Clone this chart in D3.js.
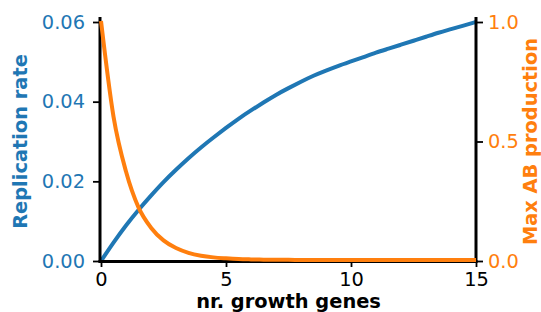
<!DOCTYPE html>
<html>
<head>
<meta charset="utf-8">
<script src="https://cdn.jsdelivr.net/npm/d3@7"></script>
<style>
body { margin: 0; background: #fff; }
text { font-family: "DejaVu Sans", sans-serif; }
</style>
</head>
<body>
<div id="chart-area"></div>
<script>
// values, x step 0.5
var genes = [0,0.5,1,1.5,2,2.5,3,3.5,4,4.5,5,5.5,6,6.5,7,7.5,8,8.5,9,9.5,10,10.5,11,11.5,12,12.5,13,13.5,14,14.5,15]
var replication = [0,0.0046,0.0089,0.0128,0.0164,0.0198,0.0229,0.0258,0.0285,0.0310,0.0334,0.0357,0.0378,0.0398,0.0417,0.0434,0.0450,0.0465,0.0478,0.0490,0.0501,0.0512,0.0523,0.0533,0.0543,0.0553,0.0563,0.0573,0.0582,0.0591,0.0600]
var abProduction = [1.0,0.60,0.37,0.22,0.135,0.082,0.050,0.030,0.018,0.011,0.007,0.004,0.0025,0.0015,0.001,0.0006,0.0003,0.0002,0.0001,0,0,0,0,0,0,0,0,0,0,0,0]

var xTicks = [0,5,10,15]
var leftTicks = [0,0.02,0.04,0.06]
var rightTicks = [0,0.5,1.0]

var blue = "#1f77b4"
var orange = "#ff7f0e"

var canvasWidth = 541
var canvasHeight = 312
var plot = {left: 101, right: 476, top: 22, bottom: 261}
var fontSize = "19.4px"

var svg = d3.select("#chart-area")
	.append("svg")
	.attr("width", canvasWidth)
	.attr("height", canvasHeight)

var x = d3.scaleLinear().domain([0, 15]).range([plot.left, plot.right])
var yLeft = d3.scaleLinear().domain([0, 0.06]).range([plot.bottom, plot.top])
var yRight = d3.scaleLinear().domain([0, 1.0]).range([plot.bottom, plot.top])

var points = genes.map(function(g, i){ return {g: g, r: replication[i], a: abProduction[i]} })

// blue curve first
svg.append("path")
	.datum(points)
	.attr("fill", "none")
	.attr("stroke", blue)
	.attr("stroke-width", 4)
	.attr("d", d3.line()
		.curve(d3.curveNatural)
		.x(function(d){ return x(d.g) })
		.y(function(d){ return yLeft(d.r) }))

function styleAxis(g, color) {
	g.select(".domain").remove()
	g.selectAll(".tick line").attr("stroke", "#000").attr("stroke-width", 1.8)
	g.selectAll(".tick text")
		.attr("fill", color)
		.style("font-size", fontSize)
		.style("font-family", "DejaVu Sans")
}

var xAxis = svg.append("g")
	.attr("transform", "translate(0," + plot.bottom + ")")
	.call(d3.axisBottom(x).tickValues(xTicks).tickSize(6).tickPadding(5).tickFormat(d3.format("d")))
styleAxis(xAxis, "#000")

var leftAxis = svg.append("g")
	.attr("transform", "translate(" + (plot.left - 1) + ",0)")
	.call(d3.axisLeft(yLeft).tickValues(leftTicks).tickSize(7).tickPadding(8).tickFormat(d3.format(".2f")))
styleAxis(leftAxis, blue)

var rightAxis = svg.append("g")
	.attr("transform", "translate(" + plot.right + ",0)")
	.call(d3.axisRight(yRight).tickValues(rightTicks).tickSize(7).tickPadding(5).tickFormat(d3.format(".1f")))
styleAxis(rightAxis, orange)

// spines
svg.append("line").attr("x1", plot.left - 1).attr("x2", plot.left - 1).attr("y1", plot.top - 5).attr("y2", plot.bottom + 1.5)
	.attr("stroke", "#000").attr("stroke-width", 3)
svg.append("line").attr("x1", plot.right).attr("x2", plot.right).attr("y1", plot.top - 5).attr("y2", plot.bottom + 1.5)
	.attr("stroke", "#000").attr("stroke-width", 3)
svg.append("line").attr("x1", plot.left - 2.5).attr("x2", plot.right + 1.5).attr("y1", plot.bottom + 0.5).attr("y2", plot.bottom + 0.5)
	.attr("stroke", "#000").attr("stroke-width", 3)

// orange curve on top
svg.append("path")
	.datum(points)
	.attr("fill", "none")
	.attr("stroke", orange)
	.attr("stroke-width", 4)
	.attr("d", d3.line()
		.curve(d3.curveMonotoneX)
		.x(function(d){ return x(d.g) })
		.y(function(d){ return yRight(d.a) - 1 }))

// axis labels
svg.append("text")
	.attr("x", (plot.left + plot.right) / 2)
	.attr("y", 308)
	.attr("text-anchor", "middle")
	.attr("font-weight", "bold")
	.style("font-size", fontSize)
	.attr("fill", "#000")
	.text("nr. growth genes")

svg.append("text")
	.attr("transform", "translate(27," + ((plot.top + plot.bottom) / 2) + ") rotate(-90)")
	.attr("text-anchor", "middle")
	.attr("font-weight", "bold")
	.style("font-size", fontSize)
	.attr("fill", blue)
	.text("Replication rate")

svg.append("text")
	.attr("transform", "translate(537," + ((plot.top + plot.bottom) / 2) + ") rotate(-90)")
	.attr("text-anchor", "middle")
	.attr("font-weight", "bold")
	.style("font-size", fontSize)
	.attr("fill", orange)
	.text("Max AB production")
</script>
</body>
</html>
